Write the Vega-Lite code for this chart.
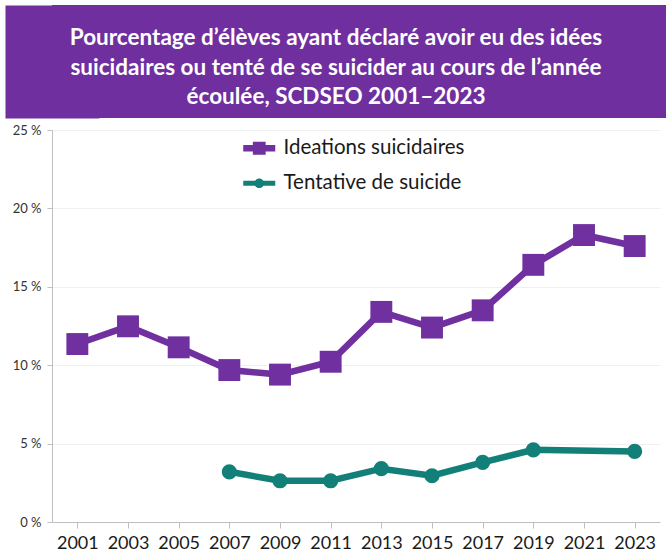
{
  "$schema": "https://vega.github.io/schema/vega-lite/v6.json",
  "padding": {"left": 5, "top": 5, "right": 0, "bottom": 0},
  "background": "white",
  "spacing": 6,
  "bounds": "full",
  "resolve": {"legend": {"color": "independent"}},
  "config": {"font": "Lato", "view": {"stroke": null}},
  "vconcat": [
    {
      "width": 614,
      "height": 113,
      "view": {"fill": "#6f2f9f", "stroke": null},
      "data": {"values": [
        {"line": 1, "text": "Pourcentage d’élèves ayant déclaré avoir eu des idées"},
        {"line": 2, "text": "suicidaires ou tenté de se suicider au cours de l’année"},
        {"line": 3, "text": "écoulée, SCDSEO 2001–2023"}
      ]},
      "mark": {"type": "text", "color": "white", "font": "Lato", "fontWeight": "bold", "fontSize": 22.5, "baseline": "middle", "align": "center", "dy": 6, "dx": -23},
      "encoding": {
        "y": {"field": "line", "type": "ordinal", "scale": {"type": "point", "padding": 0.92},
          "axis": {"title": null, "labels": false, "ticks": false, "grid": false, "domain": true, "domainWidth": 94, "domainColor": "#6f2f9f", "domainCap": "butt"}},
        "text": {"field": "text"}
      }
    },
    {
      "width": 608,
      "height": 392,
      "data": {"values": [
        {"year": "2001", "series": "Ideations suicidaires", "value": 11.35},
        {"year": "2003", "series": "Ideations suicidaires", "value": 12.48},
        {"year": "2005", "series": "Ideations suicidaires", "value": 11.14},
        {"year": "2007", "series": "Ideations suicidaires", "value": 9.69},
        {"year": "2009", "series": "Ideations suicidaires", "value": 9.4},
        {"year": "2011", "series": "Ideations suicidaires", "value": 10.22},
        {"year": "2013", "series": "Ideations suicidaires", "value": 13.4},
        {"year": "2015", "series": "Ideations suicidaires", "value": 12.4},
        {"year": "2017", "series": "Ideations suicidaires", "value": 13.5},
        {"year": "2019", "series": "Ideations suicidaires", "value": 16.4},
        {"year": "2021", "series": "Ideations suicidaires", "value": 18.3},
        {"year": "2023", "series": "Ideations suicidaires", "value": 17.6},
        {"year": "2007", "series": "Tentative de suicide", "value": 3.2},
        {"year": "2009", "series": "Tentative de suicide", "value": 2.63},
        {"year": "2011", "series": "Tentative de suicide", "value": 2.63},
        {"year": "2013", "series": "Tentative de suicide", "value": 3.4},
        {"year": "2015", "series": "Tentative de suicide", "value": 2.95},
        {"year": "2017", "series": "Tentative de suicide", "value": 3.8},
        {"year": "2019", "series": "Tentative de suicide", "value": 4.6},
        {"year": "2023", "series": "Tentative de suicide", "value": 4.5}
      ]},
      "encoding": {
        "x": {
          "field": "year", "type": "ordinal",
          "scale": {"type": "point", "padding": 0.5},
          "axis": {"title": null, "labelAngle": 0, "labelFont": "Lato", "labelFontSize": 18, "labelColor": "#1a1a1a", "labelPadding": 6, "domainColor": "#bfbfbf", "tickColor": "#bfbfbf", "tickSize": 6, "grid": false}
        },
        "y": {
          "field": "value", "type": "quantitative",
          "scale": {"domain": [0, 25], "nice": false},
          "axis": {"title": null, "values": [0, 5, 10, 15, 20, 25], "labelExpr": "datum.value + ' %'", "labelFont": "Lato", "labelFontSize": 13, "labelColor": "#333333", "labelPadding": 6, "domainColor": "#bfbfbf", "tickColor": "#bfbfbf", "tickSize": 5, "gridColor": "#f0f0f0", "minExtent": 47}
        },
        "color": {
          "field": "series", "type": "nominal",
          "scale": {"domain": ["Ideations suicidaires", "Tentative de suicide"], "range": ["#7030a0", "#128078"]},
          "legend": {
            "title": null, "orient": "none", "legendX": 197, "legendY": 8,
            "labelFont": "Lato", "labelFontSize": 20.5, "labelLimit": 400, "labelColor": "#1a1a1a",
            "symbolSize": 256, "rowPadding": 14, "labelOffset": 14,
            "encode": {"symbols": {"update": {
              "shape": {"signal": "datum.value === 'Ideations suicidaires' ? 'M-2,-0.4H-0.8V-0.8H0.8V-0.4H2V0.4H0.8V0.8H-0.8V0.4H-2Z' : 'M-2,-0.32H2V0.32H-2Z M-0.6,0A0.6,0.6 0 1,1 0.6,0A0.6,0.6 0 1,1 -0.6,0Z'"},
              "fill": {"signal": "datum.value === 'Ideations suicidaires' ? '#7030a0' : '#128078'"},
              "strokeWidth": {"value": 0}
            }}}
          }
        }
      },
      "layer": [
        {"mark": {"type": "line", "strokeWidth": 6.5}},
        {
          "mark": {"type": "point", "filled": true, "opacity": 1},
          "encoding": {
            "shape": {"field": "series", "type": "nominal", "scale": {"domain": ["Ideations suicidaires", "Tentative de suicide"], "range": ["square", "circle"]}, "legend": null},
            "size": {"field": "series", "type": "nominal", "scale": {"domain": ["Ideations suicidaires", "Tentative de suicide"], "range": [480, 230]}, "legend": null}
          }
        }
      ]
    }
  ]
}
